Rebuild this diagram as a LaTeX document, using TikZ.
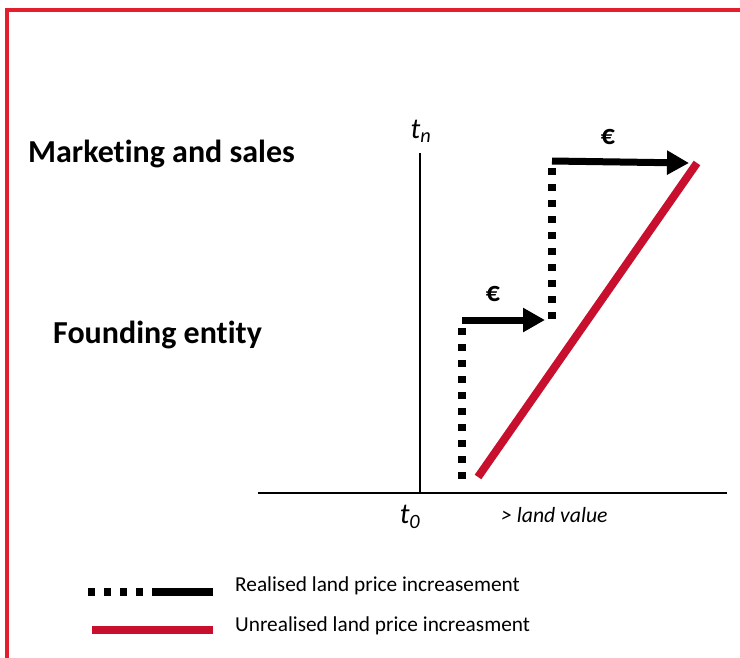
\documentclass[tikz,border=0pt]{standalone}
\usepackage{fontspec}
\setmainfont{Carlito}[Ligatures={NoCommon}]
\usetikzlibrary{arrows.meta}
\definecolor{framered}{RGB}{227,30,45}
\definecolor{linered}{RGB}{200,16,46}
\tikzset{
  axis/.style={line width=2pt},
  dotline/.style={line width=8pt, dash pattern=on 7pt off 9pt},
  bigarrow/.style={line width=7pt, -{Triangle[length=22pt,width=23pt]}},
  redline/.style={line width=8pt, linered},
  heading/.style={anchor=west, font=\fontsize{32}{36}\selectfont\bfseries, inner sep=0pt},
  legendtext/.style={anchor=west, font=\fontsize{21.3}{25}\selectfont, inner sep=0pt},
  euro/.style={font=\fontsize{28}{32}\selectfont\bfseries, inner sep=0pt},
  tlabel/.style={font=\fontsize{29}{33}\selectfont\itshape, inner sep=0pt}
}
\begin{document}
\begin{tikzpicture}[x=1pt,y=-1pt]
\useasboundingbox (0,0) rectangle (740,657);
% frame
\draw[framered, line width=4pt] (7,660) -- (7,10) -- (745,10);
% axes
\coordinate (yb) at (420,493);
\coordinate (yt) at (420,153);
\coordinate (xl) at (258,493);
\coordinate (xr) at (727,493);
\draw[axis] (yb) -- (yt);
\draw[axis] (xl) -- (xr);
\node[tlabel] (tn) at (421,131) {t\textsubscript{n}};
\node[tlabel] (t0) at (410,517) {t\textsubscript{0}};
\node[anchor=west, inner sep=0pt, font=\fontsize{21.7}{25}\selectfont\itshape] (lv) at (501,515) {> land value};
% headings
\node[heading] (mk) at (28,154) {Marketing and sales};
\node[heading] (fe) at (53,335) {Founding entity};
% red line
\coordinate (r1) at (478,477);
\coordinate (r2) at (697,163);
\draw[redline] (r1) -- (r2);
% step 1
\coordinate (d1b) at (462,479);
\coordinate (d1t) at (462,328);
\draw[dotline] (d1t) -- (d1b);
\coordinate (a1s) at (462,320);
\coordinate (a1e) at (545,320);
\draw[bigarrow] (a1s) -- (a1e);
\node[euro] (e1) at (493,294) {€};
% step 2
\coordinate (d2b) at (552,319);
\coordinate (d2t) at (552,168);
\draw[dotline] (d2t) -- (d2b);
\coordinate (a2s) at (552,161);
\coordinate (a2e) at (689,163);
\draw[bigarrow] (a2s) -- (a2e);
\node[euro] (e2) at (608,137) {€};
% legend
\coordinate (l1a) at (88,592);
\coordinate (l1b) at (146,592);
\coordinate (l1c) at (152,592);
\coordinate (l1d) at (213,592);
\draw[line width=8pt, dash pattern=on 7pt off 9pt] (l1a) -- (l1b);
\draw[line width=8pt] (l1c) -- (l1d);
\node[legendtext] (lt1) at (235,586) {Realised land price increasement};
\coordinate (l2a) at (92,630);
\coordinate (l2b) at (213,630);
\draw[redline] (l2a) -- (l2b);
\node[legendtext] (lt2) at (235,626) {Unrealised land price increasment};
\end{tikzpicture}
\end{document}
